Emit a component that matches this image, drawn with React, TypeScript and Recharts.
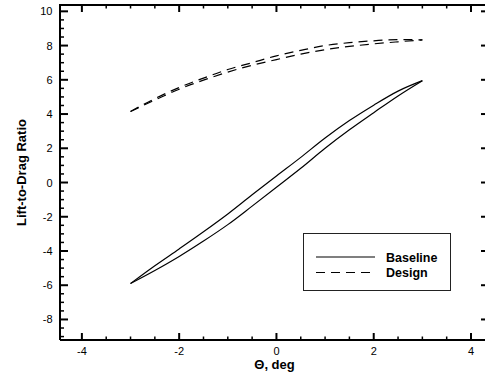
import React from 'react';
import { LineChart, Line, XAxis, YAxis, Label, ReferenceLine } from 'recharts';

// pitch angle, deg
const theta = [-3, -2.5, -2, -1.5, -1, -0.5, 0, 0.5, 1, 1.5, 2, 2.5, 3];
// hysteresis loops, two branches each
const baselineUpper = [-5.9, -4.86, -3.88, -2.88, -1.84, -0.72, 0.38, 1.47, 2.6, 3.62, 4.52, 5.34, 5.95];
const baselineLower = [-5.9, -5.14, -4.32, -3.42, -2.46, -1.38, -0.28, 0.83, 2.0, 3.08, 4.08, 5.06, 5.95];
const designUpper = [4.15, 4.9, 5.55, 6.1, 6.6, 7.0, 7.4, 7.72, 8.0, 8.17, 8.28, 8.35, 8.33];
const designLower = [4.15, 4.82, 5.45, 5.98, 6.45, 6.85, 7.18, 7.5, 7.76, 7.95, 8.1, 8.22, 8.33];

const xTicks = [-4, -3.5, -3, -2.5, -2, -1.5, -1, -0.5, 0, 0.5, 1, 1.5, 2, 2.5, 3, 3.5, 4];
const yTicks = [
  -9, -8.5, -8, -7.5, -7, -6.5, -6, -5.5, -5, -4.5, -4, -3.5, -3, -2.5, -2, -1.5, -1, -0.5,
  0, 0.5, 1, 1.5, 2, 2.5, 3, 3.5, 4, 4.5, 5, 5.5, 6, 6.5, 7, 7.5, 8, 8.5, 9, 9.5, 10,
];

const data = theta.map((t, i) => ({
  theta: t,
  bUp: baselineUpper[i],
  bLo: baselineLower[i],
  dUp: designUpper[i],
  dLo: designLower[i],
}));

const FONT = '"Liberation Sans", Arial, Helvetica, sans-serif';
const isMajor = (v: number) => Math.abs(v % 2) < 1e-9;

const X_DOMAIN: [number, number] = [-4.45, 4.37];
const Y_DOMAIN: [number, number] = [-9.2, 10.37];
const PLOT_LEFT = 60;
const PLOT_TOP = 5;
const PLOT_W = 429;
const PX_PER_X = PLOT_W / (X_DOMAIN[1] - X_DOMAIN[0]);

const BottomTick = ({ x, y, payload }: any) => {
  const major = isMajor(payload.value);
  return (
    <g>
      <line x1={x} x2={x} y1={y} y2={y - (major ? 7 : 3.5)} stroke="#000" strokeWidth={major ? 2 : 1.5} />
      {major && (
        <text x={x} y={y + 15} textAnchor="middle" fontSize={11} fontFamily={FONT} fill="#000">
          {payload.value}
        </text>
      )}
    </g>
  );
};

const LeftTick = ({ x, y, payload }: any) => {
  const major = isMajor(payload.value);
  return (
    <g>
      <line x1={x} x2={x + (major ? 8 : 4)} y1={y} y2={y} stroke="#000" strokeWidth={major ? 2 : 1.5} />
      {major && (
        <text x={x - 7.5} y={y + 4} textAnchor="end" fontSize={11} fontFamily={FONT} fill="#000">
          {payload.value}
        </text>
      )}
    </g>
  );
};

// top edge of the frame with its inward ticks
function TopFrame() {
  const px = (v: number) => PLOT_LEFT + (v - X_DOMAIN[0]) * PX_PER_X;
  return (
    <svg width={485} height={16} style={{ position: 'absolute', left: 0, top: 0, pointerEvents: 'none' }}>
      <line x1={PLOT_LEFT - 1} x2={485} y1={PLOT_TOP} y2={PLOT_TOP} stroke="#000" strokeWidth={2} />
      {xTicks.map((v) => (
        <line
          key={v}
          x1={px(v)}
          x2={px(v)}
          y1={PLOT_TOP}
          y2={PLOT_TOP + (isMajor(v) ? 7 : 3.5)}
          stroke="#000"
          strokeWidth={isMajor(v) ? 2 : 1.5}
        />
      ))}
    </svg>
  );
}

function LegendBox() {
  return (
    <svg width={150} height={60} style={{ position: 'absolute', left: 303, top: 233 }}>
      <rect x={0.5} y={0.5} width={147} height={57} fill="#fff" stroke="#222" strokeWidth={1} />
      <line x1={13} x2={72} y1={24} y2={24} stroke="#000" strokeWidth={1.2} />
      <text x={83} y={28.5} fontSize={12.5} fontWeight="bold" fontFamily={FONT}>Baseline</text>
      <line x1={13} x2={72} y1={39.5} y2={39.5} stroke="#000" strokeWidth={1.2} strokeDasharray="9 6" />
      <text x={83} y={43.5} fontSize={12.5} fontWeight="bold" fontFamily={FONT}>Design</text>
    </svg>
  );
}

export default function App() {
  const axisLine = { stroke: '#000', strokeWidth: 2 };
  const xRight = X_DOMAIN[1];
  return (
    <div style={{ position: 'absolute', left: 0, top: 0, width: 485, height: 377, overflow: 'hidden', background: '#fff' }}>
      <LineChart
        width={500}
        height={377}
        data={data}
        margin={{ top: PLOT_TOP, right: 500 - PLOT_LEFT - PLOT_W, left: 0, bottom: 0 }}
      >
        <XAxis
          dataKey="theta"
          type="number"
          domain={X_DOMAIN}
          ticks={xTicks}
          interval={0}
          allowDataOverflow
          height={37}
          tickSize={0}
          tickMargin={0}
          tickLine={false}
          axisLine={axisLine}
          tick={BottomTick}
        >
          <Label
            value="Θ, deg"
            position="insideBottom"
            offset={8}
            style={{ fontFamily: FONT, fontSize: 13, fontWeight: 'bold', fill: '#000' }}
          />
        </XAxis>
        <YAxis
          type="number"
          domain={Y_DOMAIN}
          ticks={yTicks}
          interval={0}
          allowDataOverflow
          width={PLOT_LEFT}
          tickSize={0}
          tickMargin={0}
          tickLine={false}
          axisLine={axisLine}
          tick={LeftTick}
        >
          <Label
            value="Lift-to-Drag Ratio"
            angle={-90}
            position="insideLeft"
            offset={21}
            style={{ fontFamily: FONT, fontSize: 13, fontWeight: 'bold', fill: '#000', textAnchor: 'middle' }}
          />
        </YAxis>
        {/* right edge of the frame and its inward ticks */}
        <ReferenceLine x={xRight} stroke="#000" strokeWidth={2} ifOverflow="visible" />
        {yTicks.map((v) => (
          <ReferenceLine
            key={v}
            segment={[
              { x: xRight, y: v },
              { x: xRight - (isMajor(v) ? 8 : 4) / PX_PER_X, y: v },
            ]}
            stroke="#000"
            strokeWidth={isMajor(v) ? 2 : 1.5}
            ifOverflow="visible"
          />
        ))}
        <Line dataKey="bUp" type="monotone" stroke="#000" strokeWidth={1.2} dot={false} isAnimationActive={false} />
        <Line dataKey="bLo" type="monotone" stroke="#000" strokeWidth={1.2} dot={false} isAnimationActive={false} />
        <Line dataKey="dUp" type="monotone" stroke="#000" strokeWidth={1.2} strokeDasharray="9 6" dot={false} isAnimationActive={false} />
        <Line dataKey="dLo" type="monotone" stroke="#000" strokeWidth={1.2} strokeDasharray="9 6" dot={false} isAnimationActive={false} />
      </LineChart>
      <TopFrame />
      <LegendBox />
    </div>
  );
}
